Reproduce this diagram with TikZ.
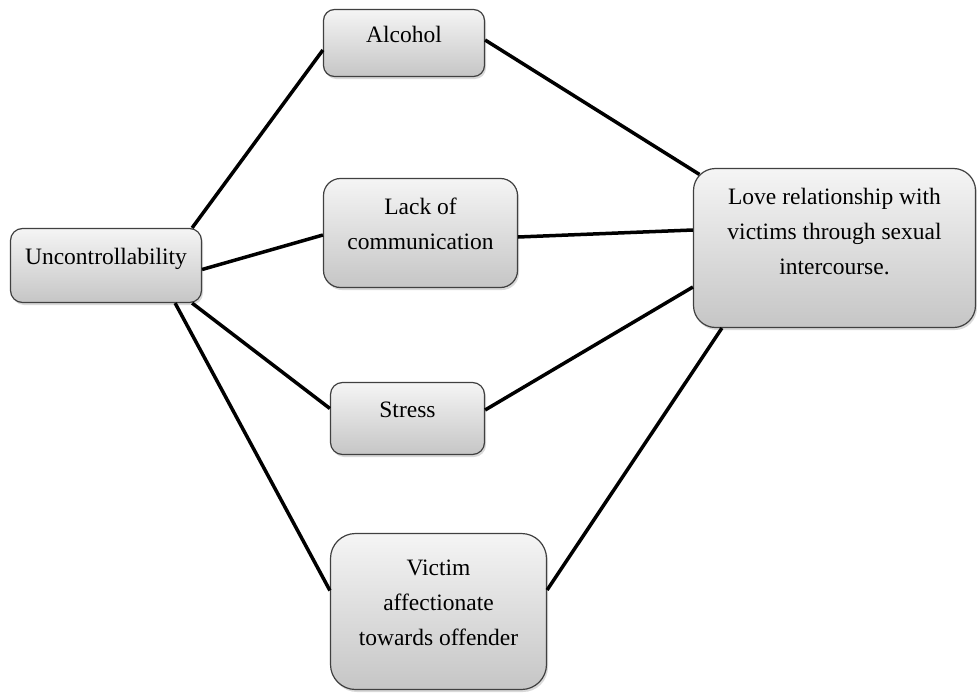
\documentclass[tikz,border=0pt]{standalone}
\usepackage{fontspec}
\setmainfont{Liberation Serif}
\usetikzlibrary{positioning, calc, shadows}

\begin{document}
\begin{tikzpicture}[x=1pt, y=-1pt,
	box/.style={draw=black!75, line width=1.2pt, top color=gray!8, bottom color=gray!45, align=center, font=\fontsize{23.5}{35}\selectfont, drop shadow={opacity=0.3, shadow xshift=1.5pt, shadow yshift=-2.5pt}, execute at end node={\rule[-18pt]{0pt}{0pt}}},
	link/.style={line width=3.5pt}]
	\useasboundingbox (0,0) rectangle (977,693);

	\node (0) at (106, 265.5) [box, rounded corners=12pt, minimum width=191pt, minimum height=74pt] {Uncontrollability};
	\node (1) at (404, 43) [box, rounded corners=11pt, minimum width=161pt, minimum height=67pt] {Alcohol};
	\node (2) at (420.5, 233) [box, rounded corners=17pt, minimum width=194pt, minimum height=109pt] {Lack of\\communication};
	\node (3) at (407.5, 418.5) [box, rounded corners=12pt, minimum width=154pt, minimum height=72pt] {Stress};
	\node (4) at (438.5, 611.5) [box, rounded corners=25pt, minimum width=216pt, minimum height=156pt] {Victim\\affectionate\\towards offender};
	\node (5) at (834.5, 248) [box, rounded corners=22pt, minimum width=282pt, minimum height=159pt, execute at end node={\rule[-34pt]{0pt}{0pt}}] {Love relationship with\\victims through sexual\\intercourse.};

	\draw[link] ($(0.north east)+(-10,0)$) -- ($(1.west)+(0,7)$);
	\draw[link] ($(0.east)+(0,4)$) -- ($(2.west)+(0,2)$);
	\draw[link] ($(0.south east)+(-10,0)$) -- ($(3.west)+(0,-10)$);
	\draw[link] ($(0.south east)+(-27,0)$) -- ($(4.west)+(0,-21)$);
	\draw[link] ($(1.east)+(0,-3)$) -- ($(5.north west)+(6.5,6.5)$);
	\draw[link] ($(2.east)+(0,4)$) -- ($(5.west)+(0,-18)$);
	\draw[link] ($(3.east)+(0,-8.5)$) -- ($(5.west)+(0,39)$);
	\draw[link] ($(4.east)+(0,-21.5)$) -- ($(5.south west)+(29,0)$);
\end{tikzpicture}
\end{document}
